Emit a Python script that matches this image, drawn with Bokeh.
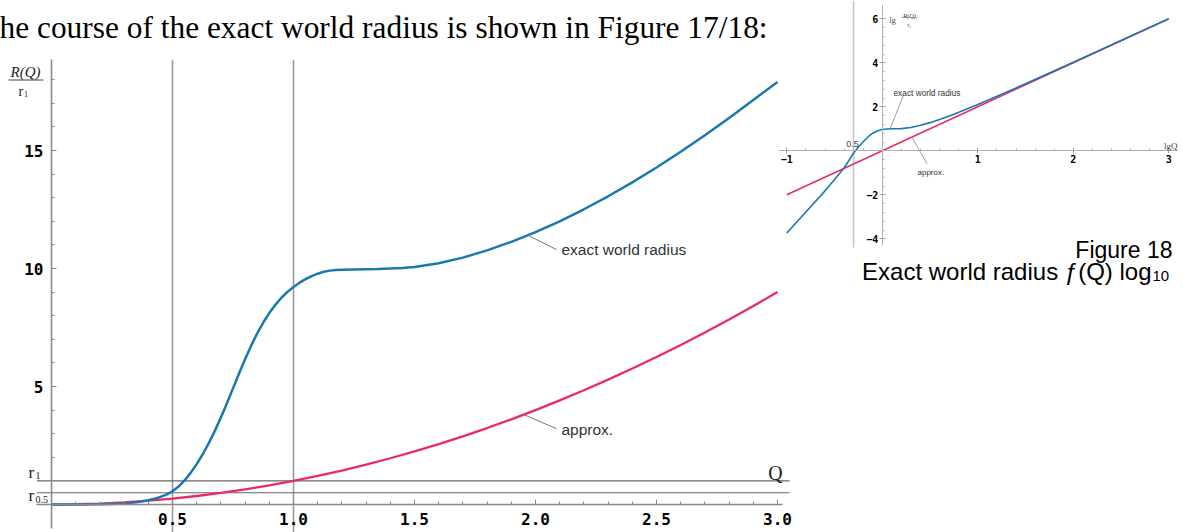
from bokeh.plotting import figure
from bokeh.models import (Range1d, LinearAxis, FixedTicker, PrintfTickFormatter,
                          Label, BoxAnnotation)
from bokeh.embed import file_html
from bokeh.resources import INLINE

# ---- main chart data: R(Q)/r1 against Q ----
q_exact = [0.0, 0.1, 0.2, 0.25, 0.3, 0.35, 0.4, 0.425, 0.45, 0.475, 0.5, 0.525,
           0.55, 0.575, 0.6, 0.625, 0.65, 0.675, 0.7, 0.725, 0.75, 0.775, 0.8,
           0.825, 0.85, 0.875, 0.9, 0.925, 0.95, 0.975, 1.0, 1.025, 1.05, 1.075,
           1.1, 1.125, 1.15, 1.175, 1.2, 1.25, 1.3, 1.35, 1.4, 1.45, 1.5, 1.6,
           1.7, 1.8, 1.9, 2.0, 2.1, 2.2, 2.3, 2.4, 2.5, 2.6, 2.7, 2.8, 2.9, 3.0]
r_exact = [0.0, 0.0, 0.01, 0.02, 0.04, 0.09, 0.18, 0.24, 0.32, 0.42, 0.56, 0.76,
           1.02, 1.34, 1.71, 2.13, 2.6, 3.12, 3.69, 4.29, 4.92, 5.55, 6.16, 6.73,
           7.25, 7.71, 8.11, 8.46, 8.76, 9.01, 9.22, 9.4, 9.55, 9.68, 9.78, 9.86,
           9.91, 9.94, 9.95, 9.96, 9.97, 9.98, 10.0, 10.02, 10.06, 10.22, 10.46,
           10.77, 11.13, 11.54, 12.0, 12.51, 13.06, 13.65, 14.28, 14.95, 15.65,
           16.38, 17.14, 17.9]

q_approx = [0.0, 0.1, 0.2, 0.3, 0.4, 0.5, 0.6, 0.7, 0.8, 0.9, 1.0, 1.1, 1.2, 1.3,
            1.4, 1.5, 1.6, 1.7, 1.8, 1.9, 2.0, 2.1, 2.2, 2.3, 2.4, 2.5, 2.6, 2.7,
            2.8, 2.9, 3.0]
r_approx = [0.0, 0.01, 0.04, 0.09, 0.16, 0.25, 0.36, 0.49, 0.64, 0.81, 1.0, 1.21,
            1.44, 1.69, 1.96, 2.25, 2.56, 2.89, 3.24, 3.61, 4.0, 4.41, 4.84, 5.29,
            5.76, 6.25, 6.76, 7.29, 7.84, 8.41, 9.0]

x_major = [0.5, 1.0, 1.5, 2.0, 2.5, 3.0]
y_major = [5, 10, 15]
q_marks = [0.5, 1.0]          # vertical reference lines
r_levels = [1.0, 0.5]         # r1 and r0.5

# ---- inset data: lg(R/r1) against lg Q ----
lgq_exact = [-1.0, -0.8, -0.6, -0.5, -0.4, -0.35, -0.3, -0.25, -0.2, -0.15, -0.1,
             -0.05, 0.0, 0.05, 0.1, 0.2, 0.3, 0.4, 0.5, 0.6, 0.75, 1.0, 1.25, 1.5,
             2.0, 2.5, 3.0]
lgr_exact = [-3.74, -2.78, -1.82, -1.3, -0.78, -0.44, -0.1, 0.17, 0.41, 0.63, 0.8,
             0.91, 0.965, 0.99, 1.0, 1.01, 1.06, 1.16, 1.28, 1.42, 1.66, 2.1, 2.57,
             3.05, 4.025, 5.01, 6.0]
lgq_approx = [-1.0, 0.0, 1.0, 2.0, 3.0]
lgr_approx = [-2.0, 0.0, 2.0, 4.0, 6.0]
lg_half = -0.301

BLUE = "#1a78b0"
PINK = "#ea2a66"
W, H = 1183, 532


def sy(py):
    """page pixel row -> screen y measured from the bottom"""
    return H - py


p = figure(width=W, height=H, x_range=Range1d(-0.21074, 4.6777),
           y_range=Range1d(-1.1864, 21.356), x_axis_type=None, y_axis_type=None,
           min_border=0, toolbar_location=None, output_backend="svg")
p.outline_line_color = None
p.background_fill_color = "white"
p.border_fill_color = "white"
p.extra_x_ranges = {"lgq": Range1d(-9.2335, 3.1539)}
p.extra_y_ranges = {"lgr": Range1d(-17.35, 6.832)}

# ---- main chart reference lines ----
for q in q_marks:
    p.segment(x0=q, y0=-1.19, x1=q, y1=18.85, line_color="#9a9a9a", line_width=1.6)
for r in r_levels:
    p.segment(x0=-0.06, y0=r, x1=3.05, y1=r, line_color="#666666", line_width=1.1)

# ---- main axes crossing at the origin ----
tick_font = "DejaVu Sans Mono"
xax = LinearAxis(fixed_location=0, bounds=(-0.06, 3.02),
                 ticker=FixedTicker(ticks=x_major,
                                    minor_ticks=[k / 10 for k in range(1, 31) if k % 5]),
                 formatter=PrintfTickFormatter(format="%.1f"))
yax = LinearAxis(fixed_location=0, bounds=(-1.0, 18.86),
                 ticker=FixedTicker(ticks=y_major,
                                    minor_ticks=[k for k in range(1, 19) if k % 5]))
for ax in (xax, yax):
    ax.axis_line_color = "#8a8a8a"
    ax.axis_line_width = 1.6
    ax.major_tick_line_color = "#8a8a8a"
    ax.minor_tick_line_color = "#8a8a8a"
    ax.major_tick_in = 5
    ax.major_tick_out = 0
    ax.minor_tick_in = 3
    ax.minor_tick_out = 0
    ax.major_label_text_font = tick_font
    ax.major_label_text_font_style = "bold"
    ax.major_label_text_font_size = "16px"
    ax.major_label_text_color = "black"
    ax.major_label_standoff = 8
p.add_layout(xax, "below")
p.add_layout(yax, "left")

# ---- main curves ----
p.line(q_approx, r_approx, line_color=PINK, line_width=2.3)
p.line(q_exact, r_exact, line_color=BLUE, line_width=2.5)

# curve labels with leader lines
p.segment(x0=[1.97, 1.952], y0=[11.4, 3.81], x1=[2.087, 2.087], y1=[10.8, 3.21],
          line_color="#777777", line_width=1)
lab_font = "Liberation Sans"
p.add_layout(Label(x=2.107, y=10.79, text="exact world radius", text_font=lab_font,
                   text_font_size="15.5px", text_color="#333333",
                   text_baseline="middle"))
p.add_layout(Label(x=2.107, y=3.17, text="approx.", text_font=lab_font,
                   text_font_size="15.5px", text_color="#333333",
                   text_baseline="middle"))

# axis titles and level names
serif = "Liberation Serif"
p.add_layout(Label(x=25, y=sy(71), x_units="screen", y_units="screen", text="R(Q)",
                   text_font=serif, text_font_style="italic", text_font_size="15px",
                   text_color="#222222", text_align="center",
                   text_baseline="alphabetic"))
p.add_layout(BoxAnnotation(left=8, right=43, bottom=sy(80), top=sy(79),
                           left_units="screen", right_units="screen",
                           bottom_units="screen", top_units="screen",
                           fill_color="#444444", fill_alpha=1, line_alpha=0))
p.add_layout(Label(x=18, y=sy(91), x_units="screen", y_units="screen", text="r",
                   text_font=serif, text_font_size="14px", text_color="#222222",
                   text_baseline="alphabetic"))
p.add_layout(Label(x=23.5, y=sy(93), x_units="screen", y_units="screen", text="1",
                   text_font=serif, text_font_size="8px", text_color="#222222",
                   text_baseline="alphabetic"))

p.add_layout(Label(x=28, y=sy(472), x_units="screen", y_units="screen", text="r",
                   text_font=serif, text_font_size="17px", text_color="#222222",
                   text_baseline="alphabetic"))
p.add_layout(Label(x=35, y=sy(475), x_units="screen", y_units="screen", text="1",
                   text_font=serif, text_font_size="10px", text_color="#222222",
                   text_baseline="alphabetic"))
p.add_layout(Label(x=28, y=sy(495), x_units="screen", y_units="screen", text="r",
                   text_font=serif, text_font_size="17px", text_color="#222222",
                   text_baseline="alphabetic"))
p.add_layout(Label(x=35, y=sy(499), x_units="screen", y_units="screen", text="0.5",
                   text_font=serif, text_font_size="10px", text_color="#222222",
                   text_baseline="alphabetic"))
p.add_layout(Label(x=775, y=sy(472), x_units="screen", y_units="screen", text="Q",
                   text_font=serif, text_font_size="20px", text_color="#222222",
                   text_align="center", text_baseline="alphabetic"))

# ---- inset: logarithmic view ----
p.segment(x0=lg_half, y0=-4.4, x1=lg_half, y1=6.83, x_range_name="lgq",
          y_range_name="lgr", line_color="#c4c4c4", line_width=1.6)

ix = LinearAxis(x_range_name="lgq", y_range_name="lgr", fixed_location=0,
                bounds=(-1.09, 3.09),
                ticker=FixedTicker(ticks=[-1, 1, 2, 3],
                                   minor_ticks=[k / 5 for k in range(-5, 16) if k % 5]))
iy = LinearAxis(x_range_name="lgq", y_range_name="lgr", fixed_location=0,
                bounds=(-4.3, 6.6),
                ticker=FixedTicker(ticks=[-4, -2, 2, 4, 6],
                                   minor_ticks=[k * 0.4 for k in range(-10, 16) if k % 5]))
for ax in (ix, iy):
    ax.axis_line_color = "#b0b0b0"
    ax.axis_line_width = 1
    ax.major_tick_line_color = "#a0a0a0"
    ax.minor_tick_line_color = "#b0b0b0"
    ax.major_tick_in = 3
    ax.major_tick_out = 3
    ax.minor_tick_in = 2
    ax.minor_tick_out = 0
    ax.major_label_text_font = tick_font
    ax.major_label_text_font_style = "bold"
    ax.major_label_text_font_size = "10px"
    ax.major_label_text_color = "black"
    ax.major_label_standoff = 1
p.add_layout(ix, "below")
p.add_layout(iy, "left")

p.line(lgq_approx, lgr_approx, x_range_name="lgq", y_range_name="lgr",
       line_color=PINK, line_width=1.5)
p.line(lgq_exact, lgr_exact, x_range_name="lgq", y_range_name="lgr",
       line_color=BLUE, line_width=1.6)

p.segment(x0=[0.08, 0.31], y0=[1.0, 0.62], x1=[0.22, 0.47], y1=[2.5, -0.6],
          x_range_name="lgq", y_range_name="lgr", line_color="#888888", line_width=0.8)
p.add_layout(Label(x=893, y=sy(92), x_units="screen", y_units="screen",
                   text="exact world radius", text_font=lab_font, text_font_size="8.3px",
                   text_color="#333333", text_baseline="alphabetic"))
p.add_layout(Label(x=917, y=sy(172), x_units="screen", y_units="screen",
                   text="approx.", text_font=lab_font, text_font_size="8px",
                   text_color="#333333", text_baseline="alphabetic"))
p.add_layout(Label(x=852, y=sy(143), x_units="screen", y_units="screen", text="0.5",
                   text_font=lab_font, text_font_size="9px", text_color="#444444",
                   text_align="center", text_baseline="alphabetic"))
p.add_layout(Label(x=1177, y=sy(145), x_units="screen", y_units="screen", text="lgQ",
                   text_font=serif, text_font_size="9px", text_color="#444444",
                   text_align="right", text_baseline="alphabetic"))
p.add_layout(Label(x=889, y=sy(20), x_units="screen", y_units="screen", text="lg",
                   text_font=serif, text_font_size="8px", text_color="#444444",
                   text_baseline="alphabetic"))
p.add_layout(Label(x=909, y=sy(15), x_units="screen", y_units="screen", text="R(Q)",
                   text_font=serif, text_font_style="italic", text_font_size="6.5px",
                   text_color="#444444", text_align="center",
                   text_baseline="alphabetic"))
p.add_layout(BoxAnnotation(left=901, right=917, bottom=sy(17.5), top=sy(17),
                           left_units="screen", right_units="screen",
                           bottom_units="screen", top_units="screen",
                           fill_color="#666666", fill_alpha=1, line_alpha=0))
p.add_layout(Label(x=909, y=sy(24), x_units="screen", y_units="screen", text="r₁",
                   text_font=serif, text_font_size="6px", text_color="#444444",
                   text_align="center", text_baseline="alphabetic"))

# ---- surrounding text ----
p.add_layout(Label(x=-1, y=sy(27), x_units="screen", y_units="screen",
                   text="he course of the exact world radius is shown in Figure 17/18:",
                   text_font=serif, text_font_size="31.4px", text_color="black",
                   text_baseline="alphabetic"))
p.add_layout(Label(x=1172, y=sy(249), x_units="screen", y_units="screen",
                   text="Figure 18", text_font=lab_font, text_font_size="23px",
                   text_color="black", text_align="right", text_baseline="alphabetic"))
p.add_layout(Label(x=1151, y=sy(271), x_units="screen", y_units="screen",
                   text="Exact world radius ƒ(Q) log", text_font=lab_font,
                   text_font_size="24px", text_color="black", text_align="right",
                   text_baseline="alphabetic"))
p.add_layout(Label(x=1152, y=sy(275), x_units="screen", y_units="screen", text="10",
                   text_font=lab_font, text_font_size="15px", text_color="black",
                   text_baseline="alphabetic"))

open("out.html", "w").write(file_html(p, INLINE))
